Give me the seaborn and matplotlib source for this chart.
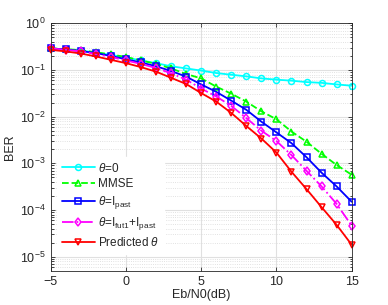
import numpy as np
import pandas as pd
import matplotlib
matplotlib.use('Agg')
import matplotlib.pyplot as plt
import seaborn as sns

sns.set_theme(style='ticks')
plt.rcParams['font.family'] = ['Liberation Sans', 'DejaVu Sans']
plt.rcParams['mathtext.fontset'] = 'custom'
plt.rcParams['mathtext.rm'] = 'Liberation Sans'
plt.rcParams['mathtext.it'] = 'Liberation Sans:italic'
plt.rcParams['mathtext.bf'] = 'Liberation Sans:bold'

ebn0 = list(range(-5, 16))

ber_zero = [0.29, 0.275, 0.26, 0.235, 0.21, 0.185, 0.16, 0.14, 0.12, 0.108, 0.097,
            0.086, 0.079, 0.073, 0.066, 0.062, 0.059, 0.055, 0.053, 0.049, 0.046]
ber_mmse = [0.29, 0.28, 0.265, 0.24, 0.215, 0.19, 0.16, 0.135, 0.108, 0.082, 0.066,
            0.044, 0.031, 0.021, 0.013, 0.0088, 0.0048, 0.0029, 0.0016, 0.00092, 0.00057]
ber_past = [0.29, 0.275, 0.255, 0.23, 0.2, 0.17, 0.145, 0.12, 0.095, 0.072, 0.049,
            0.034, 0.022, 0.014, 0.0078, 0.0046, 0.0027, 0.00135, 0.00063, 0.00032, 0.00015]
ber_fut = [0.29, 0.27, 0.25, 0.22, 0.19, 0.16, 0.135, 0.11, 0.085, 0.062, 0.04,
           0.027, 0.017, 0.0093, 0.005, 0.003, 0.0015, 0.00069, 0.00032, 0.000135, 0.000046]
ber_pred = [0.27, 0.25, 0.225, 0.195, 0.165, 0.14, 0.115, 0.092, 0.068, 0.05, 0.032,
            0.021, 0.012, 0.0063, 0.0034, 0.0017, 0.00066, 0.00028, 0.000115, 0.000048, 0.000018]

labels = [r'$\theta$=0', 'MMSE', r'$\theta$=I$_{\rm past}$',
          r'$\theta$=I$_{\rm fut1}$+I$_{\rm past}$', r'Predicted $\theta$']
colors = ['#00ffff', '#00ff00', '#0000ff', '#ff00ff', '#ff0000']
markers = ['o', '^', 's', 'd', 'v']
styles = ['-', '--', '-', '-.', '-']

df = pd.DataFrame({'x': ebn0 * 5,
                   'ber': ber_zero + ber_mmse + ber_past + ber_fut + ber_pred,
                   'scheme': sum([[l] * len(ebn0) for l in labels], [])})

fig = plt.figure(figsize=(3.88, 3.05), dpi=100)
ax = fig.add_axes([0.1307, 0.1125, 0.7757, 0.8111])

for lab, c, m, ls in zip(labels, colors, markers, styles):
    d = df[df['scheme'] == lab]
    sns.lineplot(data=d, x='x', y='ber', ax=ax, color=c, marker=m, linestyle=ls,
                 linewidth=1.3, markersize=4.3, markerfacecolor='none',
                 markeredgecolor=c, markeredgewidth=1.1, label=lab, clip_on=False)

ax.set_yscale('log')
ax.set_xlim(-5, 15)
ax.set_ylim(10 ** -5.3, 1)
ax.set_xticks([-5, 0, 5, 10, 15])
ax.grid(True, which='major', color='#e0e0e0', linewidth=0.8, linestyle='-')
ax.grid(True, which='minor', axis='y', color='#d8d8d8', linewidth=0.6, linestyle=':')
ax.tick_params(which='both', direction='in', top=True, right=True, labelsize=9,
               colors='#262626', width=0.6)
ax.tick_params(which='major', length=3)
ax.tick_params(which='minor', length=1.8)
for s in ax.spines.values():
    s.set_color('#262626')
    s.set_linewidth(0.6)
ax.set_xlabel('Eb/N0(dB)', fontsize=9, labelpad=1, color='#262626')
ax.set_ylabel('BER', fontsize=9, labelpad=3, color='#262626')

leg = ax.legend(loc='lower left', fontsize=8.5, frameon=True, fancybox=False,
                edgecolor='white', framealpha=1, handlelength=2.8,
                borderaxespad=0.9, labelspacing=0.33, handletextpad=0.3,
                bbox_to_anchor=(-0.015, 0.025))

fig.savefig('out.png', dpi=100)
